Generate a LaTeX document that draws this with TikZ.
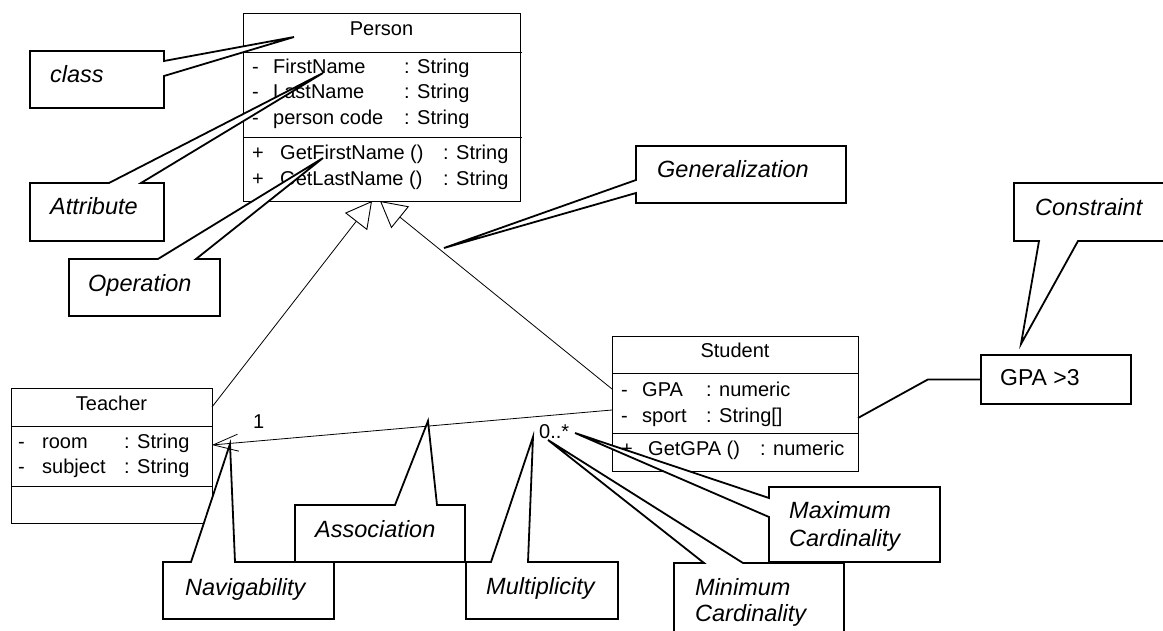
\documentclass[tikz,border=0pt]{standalone}
\usepackage{fontspec}
\setmainfont{Liberation Sans}
\usetikzlibrary{arrows.meta,calc}

\tikzset{
  classbox/.style={draw=black, line width=0.9pt, fill=white, inner sep=0pt, outer sep=0pt, anchor=north west},
  compart/.style={line width=0.9pt},
  member/.style={anchor=base west, inner sep=0pt, font=\fontsize{20}{24}\selectfont},
  title/.style={anchor=base, inner sep=0pt, font=\fontsize{20}{24}\selectfont},
  gen/.style={line width=0.8pt, -{Triangle[open, length=26pt, width=28pt, line width=0.9pt]}},
  assoc/.style={line width=0.8pt, -{Straight Barb[length=25pt, width=17pt, line width=0.8pt]}},
  notearea/.style={inner sep=0pt, outer sep=0pt, anchor=north west},
  note/.style={draw=black, fill=white, line width=1.8pt},
  notetext/.style={anchor=base west, inner sep=0pt, font=\fontsize{23.5}{27}\selectfont\itshape},
  plaintext/.style={anchor=base west, inner sep=0pt, font=\fontsize{23}{27}\selectfont},
}

\begin{document}
\begin{tikzpicture}[x=1pt,y=-1pt]
\fill[white] (0,0) rectangle (1163,631);
\useasboundingbox (0,0) rectangle (1163,631);
\clip (0,0) rectangle (1163,631);

% ---------- class Person ----------
\node[classbox, minimum width=277pt, minimum height=188pt] (person) at (243,13) {};
\draw[compart] ($(person.north west)+(0,39)$) -- ($(person.north east)+(2,39)$);
\draw[compart] ($(person.north west)+(0,124)$) -- ($(person.north east)+(2,124)$);
\node[title] (personName) at (381.5,36) {Person};
\node[member] (pd1) at (252,74) {-};
\node[member] (pa1) at (273,74) {FirstName};
\node[member] (pt1) at (404,74) {: String};
\node[member] (pd2) at (252,99) {-};
\node[member] (pa2) at (273,99) {LastName};
\node[member] (pt2) at (404,99) {: String};
\node[member] (pd3) at (252,125) {-};
\node[member] (pa3) at (273,125) {person code};
\node[member] (pt3) at (404,125) {: String};
\node[member] (po1) at (252,160) {+};
\node[member] (pm1) at (280,160) {GetFirstName ()};
\node[member] (pr1) at (443,160) {: String};
\node[member] (po2) at (252,186) {+};
\node[member] (pm2) at (280,186) {GetLastName ()};
\node[member] (pr2) at (443,186) {: String};

% ---------- class Teacher ----------
\node[classbox, minimum width=201pt, minimum height=135pt] (teacher) at (11,388) {};
\draw[compart] ($(teacher.north west)+(0,38)$) -- ($(teacher.north east)+(0,38)$);
\draw[compart] ($(teacher.north west)+(0,98)$) -- ($(teacher.north east)+(0,98)$);
\node[title] (teacherName) at (111.5,410) {Teacher};
\node[member] (td1) at (18,448) {-};
\node[member] (ta1) at (42,448) {room};
\node[member] (tt1) at (124,448) {: String};
\node[member] (td2) at (18,473) {-};
\node[member] (ta2) at (42,473) {subject};
\node[member] (tt2) at (124,473) {: String};

% ---------- class Student ----------
\node[classbox, minimum width=246pt, minimum height=135pt] (student) at (612,336) {};
\draw[compart] ($(student.north west)+(0,37)$) -- ($(student.north east)+(0,37)$);
\draw[compart] ($(student.north west)+(0,97)$) -- ($(student.north east)+(0,97)$);
\node[title] (studentName) at (735,358) {Student};
\node[member] (sd1) at (621,396) {-};
\node[member] (sa1) at (642,396) {GPA};
\node[member] (st1) at (706,396) {: numeric};
\node[member] (sd2) at (621,422) {-};
\node[member] (sa2) at (642,422) {sport};
\node[member] (st2) at (706,422) {: String[]};
\node[member] (so1) at (621,455) {+};
\node[member] (sm1) at (648,455) {GetGPA ()};
\node[member] (sr1) at (760,455) {: numeric};

% ---------- relationships ----------
\draw[gen] ($(teacher.north east)+(0,19)$) -- ($(person.south west)+(129,0)$);
\draw[gen] ($(student.north west)+(0,53)$) -- ($(person.south west)+(137,0)$);
\draw[assoc] ($(student.north west)+(0,74)$) -- ($(teacher.north east)+(0,57)$);
\node[member] (multTeacher) at (253,428) {1};
\node[member] (multStudent) at (539,438) {0..*};

% ---------- constraint ----------
\node[draw=black, fill=white, line width=1.8pt, inner sep=0pt, anchor=north west,
      minimum width=150pt, minimum height=49pt] (gpa) at (980,354) {};
\node[plaintext] (gpaText) at (1000,385) {GPA >3};
\draw[line width=1.8pt] ($(student.north east)+(0,82)$) -- ($(gpa.west)+(-52,0)$) -- (gpa.west);

% ---------- notes ----------
% class
\node[notearea, minimum width=134pt, minimum height=57pt] (nClass) at (30,51) {};
\coordinate (tClass) at (294,37);
\draw[note] (nClass.north west) -- (nClass.north east) -- ($(nClass.north east)+(0,10)$) -- (tClass)
  -- ($(nClass.north east)+(0,25)$) -- (nClass.south east) -- (nClass.south west) -- cycle;
\node[notetext] (xClass) at (50,83) {class};

% attribute
\node[notearea, minimum width=134pt, minimum height=58pt] (nAttr) at (30,183) {};
\coordinate (tAttr) at (323,73);
\draw[note] (nAttr.north west) -- ($(nAttr.north west)+(79,0)$) -- (tAttr) -- ($(nAttr.north west)+(111,0)$)
  -- (nAttr.north east) -- (nAttr.south east) -- (nAttr.south west) -- cycle;
\node[notetext] (xAttr) at (50,215) {Attribute};

% operation
\node[notearea, minimum width=151pt, minimum height=57pt] (nOper) at (69,259) {};
\coordinate (tOper) at (323,158);
\draw[note] (nOper.north west) -- ($(nOper.north west)+(89,0)$) -- (tOper) -- ($(nOper.north west)+(127,0)$)
  -- (nOper.north east) -- (nOper.south east) -- (nOper.south west) -- cycle;
\node[notetext] (xOper) at (88,292) {Operation};

% generalization
\node[notearea, minimum width=210pt, minimum height=57pt] (nGen) at (636,146) {};
\coordinate (tGen) at (444,248);
\draw[note] (nGen.north west) -- (nGen.north east) -- (nGen.south east) -- (nGen.south west)
  -- ($(nGen.north west)+(0,47)$) -- (tGen) -- ($(nGen.north west)+(0,34)$) -- cycle;
\node[notetext] (xGen) at (657,178) {Generalization};

% constraint
\node[notearea, minimum width=190pt, minimum height=58pt] (nCons) at (1014,183) {};
\coordinate (tCons) at (1021,344);
\draw[note] (nCons.north west) -- (nCons.north east) -- (nCons.south east) -- ($(nCons.south west)+(64,0)$)
  -- (tCons) -- ($(nCons.south west)+(25,0)$) -- (nCons.south west) -- cycle;
\node[notetext] (xCons) at (1035,216) {Constraint};

% association
\node[notearea, minimum width=170pt, minimum height=57pt] (nAssoc) at (295,505) {};
\coordinate (tAssoc) at (428,421);
\draw[note] (nAssoc.north west) -- ($(nAssoc.north west)+(100,0)$) -- (tAssoc) -- ($(nAssoc.north west)+(142,0)$)
  -- (nAssoc.north east) -- (nAssoc.south east) -- (nAssoc.south west) -- cycle;
\node[notetext] (xAssoc) at (315,537) {Association};

% navigability
\node[notearea, minimum width=171pt, minimum height=57pt] (nNav) at (163,562) {};
\coordinate (tNav) at (230,444);
\draw[note] (nNav.north west) -- ($(nNav.north west)+(28,0)$) -- (tNav) -- ($(nNav.north west)+(72,0)$)
  -- (nNav.north east) -- (nNav.south east) -- (nNav.south west) -- cycle;
\node[notetext] (xNav) at (185,595) {Navigability};

% multiplicity
\node[notearea, minimum width=152pt, minimum height=57pt] (nMult) at (466,562) {};
\coordinate (tMult) at (533,437);
\draw[note] (nMult.north west) -- ($(nMult.north west)+(25,0)$) -- (tMult) -- ($(nMult.north west)+(62,0)$)
  -- (nMult.north east) -- (nMult.south east) -- (nMult.south west) -- cycle;
\node[notetext] (xMult) at (486,594) {Multiplicity};

% maximum cardinality
\node[notearea, minimum width=171pt, minimum height=75pt] (nMax) at (769,487) {};
\coordinate (tMax) at (575,433);
\draw[note] (nMax.north west) -- (nMax.north east) -- (nMax.south east) -- (nMax.south west)
  -- ($(nMax.north west)+(0,30)$) -- (tMax) -- ($(nMax.north west)+(0,11)$) -- cycle;
\node[notetext] (xMax1) at (789,518) {Maximum};
\node[notetext] (xMax2) at (789,546) {Cardinality};

% minimum cardinality
\node[notearea, minimum width=170pt, minimum height=100pt] (nMin) at (674,563) {};
\coordinate (tMin) at (548,440);
\draw[note] (nMin.north west) -- ($(nMin.north west)+(30,0)$) -- (tMin) -- ($(nMin.north west)+(69,0)$)
  -- (nMin.north east) -- (nMin.south east) -- (nMin.south west) -- cycle;
\node[notetext] (xMin1) at (695,595) {Minimum};
\node[notetext] (xMin2) at (695,621) {Cardinality};

\end{tikzpicture}
\end{document}
